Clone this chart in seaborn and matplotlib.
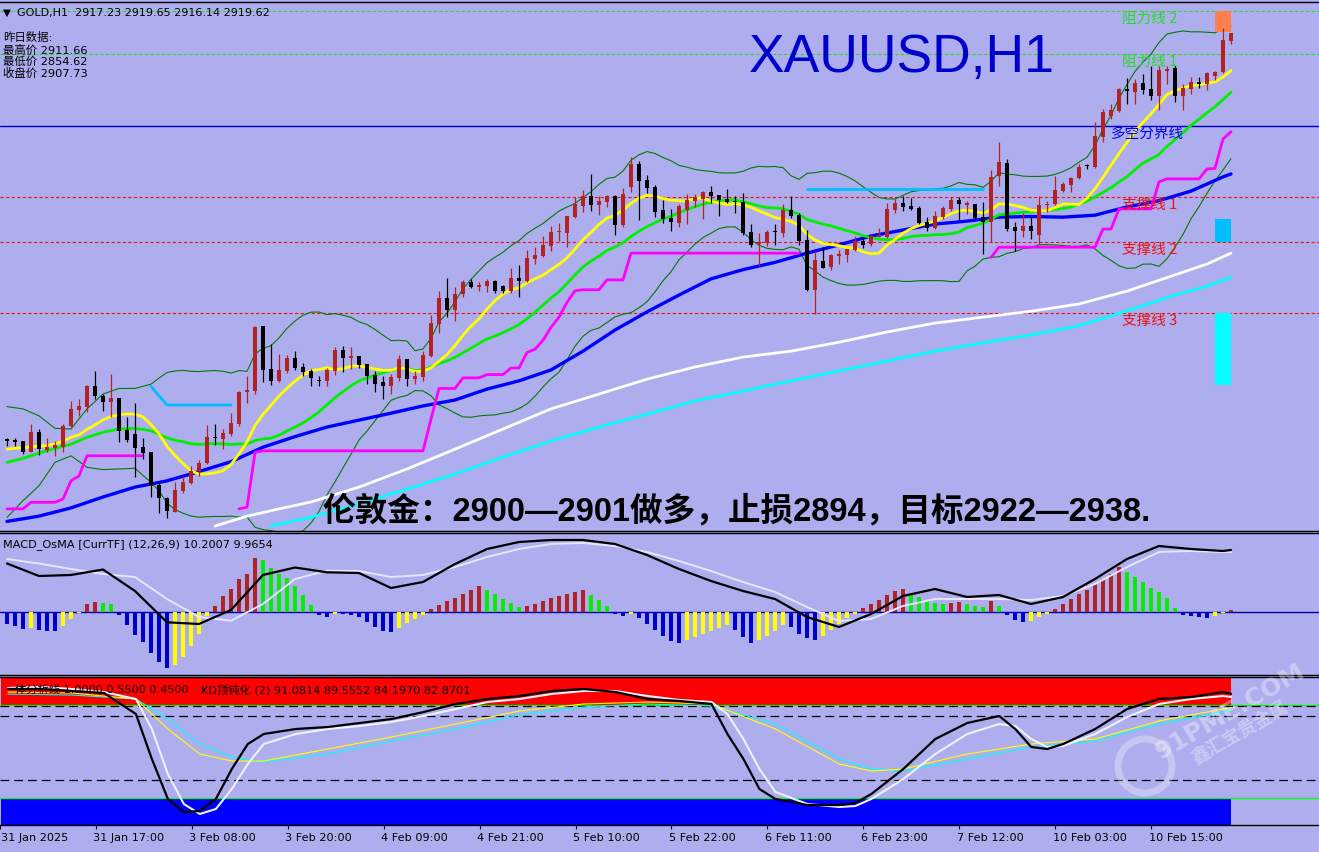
import numpy as np
import pandas as pd
import matplotlib
matplotlib.use("Agg")
import matplotlib.pyplot as plt
import seaborn as sns
from matplotlib.patches import Rectangle, Ellipse

W, H = 1319, 853
BG = "#AEAEEE"

# ---------------- price data (H1 bars, index 0..153) ----------------
opens = [2796.6, 2796.3, 2795.9, 2792.7, 2798.6, 2793.3, 2793.9, 2794.2, 2800.5, 2805.5,
         2806.4, 2812.5, 2809.5, 2807.7, 2808.9, 2799.3, 2798.1, 2794.2, 2792.5, 2782.6,
         2778.6, 2774.6, 2780.9, 2783.2, 2786.8, 2789.3, 2797.0, 2796.6, 2798.1, 2801.1,
         2810.7, 2811.2, 2830.9, 2817.8, 2814.2, 2817.3, 2821.1, 2818.5, 2817.3, 2814.6,
         2814.1, 2817.3, 2823.5, 2821.1, 2821.6, 2819.3, 2816.0, 2813.8, 2812.7, 2815.0,
         2820.8, 2814.8, 2815.3, 2821.6, 2831.4, 2839.3, 2835.8, 2840.4, 2844.1, 2842.6,
         2842.9, 2844.5, 2843.0, 2841.5, 2845.5, 2844.6, 2851.1, 2852.1, 2855.2, 2859.2,
         2859.1, 2863.7, 2867.3, 2870.2, 2867.6, 2868.5, 2870.2, 2861.4, 2873.0, 2879.9,
         2875.1, 2872.8, 2866.0, 2863.5, 2862.1, 2866.0, 2868.8, 2869.4, 2871.5, 2870.5,
         2869.3, 2868.8, 2868.5, 2859.4, 2855.8, 2856.0, 2859.7, 2859.1, 2866.0, 2864.4,
         2857.0, 2841.8, 2850.6, 2848.8, 2852.1, 2852.3, 2853.8, 2856.5, 2855.6, 2857.9,
         2857.7, 2866.0, 2868.1, 2867.2, 2866.5, 2862.2, 2860.5, 2863.7, 2866.3, 2868.9,
         2867.5, 2867.8, 2863.7, 2862.4, 2876.2, 2880.2, 2860.7, 2859.7, 2861.0, 2858.4,
         2867.5, 2867.8, 2871.8, 2873.5, 2875.6, 2879.6, 2878.9, 2888.2, 2894.6, 2896.1,
         2902.6, 2901.8, 2904.4, 2902.6, 2900.6, 2908.2, 2908.9, 2900.6, 2902.6, 2904.8,
         2904.1, 2906.7, 2907.7, 2917.23]
highs = [2796.8, 2796.8, 2796.1, 2801.1, 2799.6, 2796.8, 2796.1, 2801.1, 2808.2, 2808.7,
         2812.9, 2817.3, 2810.2, 2816.3, 2808.9, 2803.1, 2807.4, 2796.8, 2792.5, 2783.4,
         2778.9, 2783.6, 2785.5, 2788.4, 2790.3, 2800.8, 2801.1, 2799.6, 2804.5, 2811.2,
         2815.8, 2830.9, 2830.9, 2825.4, 2822.3, 2822.1, 2823.3, 2819.6, 2817.8, 2815.6,
         2818.0, 2824.4, 2824.8, 2824.4, 2821.8, 2819.3, 2817.3, 2815.8, 2816.3, 2822.0,
         2820.8, 2817.3, 2823.3, 2834.1, 2841.5, 2845.5, 2842.7, 2844.9, 2845.2, 2844.1,
         2845.2, 2844.8, 2843.3, 2848.4, 2849.3, 2853.8, 2854.7, 2858.0, 2861.0, 2862.0,
         2864.2, 2869.8, 2872.0, 2876.9, 2870.3, 2870.6, 2870.5, 2872.6, 2881.9, 2880.7,
         2876.6, 2873.5, 2869.0, 2866.3, 2867.8, 2870.8, 2870.7, 2871.8, 2873.3, 2870.5,
         2872.3, 2870.3, 2871.1, 2861.7, 2858.9, 2859.9, 2861.7, 2867.8, 2870.3, 2865.0,
         2859.9, 2853.4, 2854.7, 2852.6, 2853.9, 2854.3, 2858.0, 2857.7, 2858.4, 2860.4,
         2868.1, 2869.3, 2870.3, 2869.6, 2867.2, 2863.7, 2865.8, 2867.3, 2870.0, 2870.0,
         2868.6, 2867.8, 2868.3, 2878.1, 2886.7, 2881.4, 2862.4, 2865.1, 2863.7, 2870.3,
         2868.8, 2876.3, 2874.4, 2875.9, 2879.9, 2879.9, 2892.5, 2896.6, 2898.1, 2902.8,
         2906.0, 2905.7, 2907.2, 2909.7, 2909.5, 2909.7, 2909.9, 2904.1, 2906.2, 2906.2,
         2907.9, 2908.2, 2921.0, 2919.65]
lows = [2794.5, 2794.5, 2792.0, 2792.5, 2791.7, 2792.7, 2791.3, 2792.5, 2800.2, 2803.4,
        2804.7, 2808.7, 2805.1, 2803.1, 2795.8, 2795.6, 2785.0, 2790.5, 2778.9, 2774.1,
        2772.5, 2774.5, 2780.2, 2782.9, 2785.5, 2789.1, 2794.8, 2793.5, 2797.6, 2800.6,
        2807.5, 2810.2, 2813.8, 2812.9, 2813.8, 2816.6, 2817.6, 2815.8, 2812.7, 2812.7,
        2812.7, 2816.0, 2816.9, 2817.8, 2818.1, 2813.2, 2810.9, 2808.7, 2810.2, 2814.2,
        2812.5, 2813.2, 2814.3, 2821.3, 2828.7, 2833.6, 2832.2, 2839.5, 2842.4, 2841.5,
        2841.0, 2840.8, 2840.8, 2840.8, 2839.5, 2844.1, 2849.6, 2851.6, 2853.6, 2856.7,
        2854.8, 2863.4, 2865.3, 2865.8, 2864.5, 2867.0, 2858.4, 2860.7, 2871.3, 2863.0,
        2871.0, 2863.8, 2862.0, 2859.7, 2860.9, 2861.7, 2867.0, 2863.2, 2868.0, 2864.2,
        2868.1, 2865.1, 2858.4, 2854.7, 2849.1, 2855.1, 2855.4, 2857.9, 2863.4, 2855.4,
        2841.3, 2834.5, 2848.3, 2847.9, 2849.6, 2850.3, 2853.6, 2854.5, 2855.1, 2857.7,
        2857.4, 2865.1, 2865.8, 2866.0, 2861.7, 2859.7, 2860.2, 2863.2, 2865.8, 2862.9,
        2864.7, 2863.2, 2852.6, 2856.2, 2873.3, 2859.7, 2853.6, 2857.7, 2857.2, 2855.7,
        2865.3, 2867.5, 2871.3, 2871.3, 2875.4, 2878.4, 2878.7, 2886.5, 2893.5, 2895.8,
        2898.1, 2898.1, 2901.1, 2899.4, 2896.3, 2904.1, 2898.8, 2896.4, 2901.1, 2902.8,
        2902.4, 2905.4, 2907.5, 2916.14]
closes = [2795.9, 2795.8, 2792.7, 2798.6, 2793.5, 2794.1, 2794.8, 2800.6, 2805.7, 2806.5,
          2812.5, 2809.5, 2807.7, 2809.0, 2799.1, 2796.4, 2794.0, 2792.3, 2782.4, 2778.6,
          2774.8, 2781.1, 2783.6, 2787.0, 2789.3, 2797.3, 2796.8, 2798.4, 2801.4, 2810.7,
          2811.5, 2830.4, 2817.6, 2814.2, 2817.5, 2821.1, 2818.1, 2816.8, 2815.0, 2814.1,
          2817.5, 2823.5, 2821.1, 2821.8, 2819.0, 2815.8, 2813.2, 2812.7, 2815.5, 2820.8,
          2814.8, 2815.7, 2822.0, 2831.7, 2839.3, 2835.8, 2840.5, 2844.1, 2842.6, 2843.3,
          2844.5, 2841.3, 2841.4, 2845.5, 2844.6, 2851.4, 2852.3, 2855.4, 2859.2, 2859.4,
          2864.1, 2867.8, 2870.2, 2867.6, 2868.7, 2870.2, 2861.4, 2870.8, 2879.9, 2874.7,
          2872.6, 2865.4, 2863.2, 2862.4, 2867.2, 2869.0, 2869.9, 2871.5, 2870.3, 2869.1,
          2868.3, 2868.3, 2859.1, 2855.4, 2856.2, 2859.4, 2859.2, 2866.0, 2864.2, 2856.7,
          2841.8, 2850.8, 2848.5, 2852.3, 2852.6, 2854.1, 2856.7, 2855.4, 2858.2, 2858.5,
          2866.3, 2868.1, 2867.0, 2866.3, 2862.0, 2860.5, 2864.2, 2866.5, 2868.9, 2867.8,
          2868.1, 2863.4, 2862.4, 2875.9, 2880.4, 2860.2, 2859.7, 2861.0, 2859.7, 2867.5,
          2867.8, 2872.0, 2873.8, 2875.6, 2878.9, 2879.4, 2888.5, 2895.6, 2896.3, 2902.6,
          2901.9, 2904.4, 2902.4, 2900.6, 2908.5, 2908.7, 2900.6, 2902.8, 2904.8, 2904.1,
          2907.5, 2907.9, 2917.5, 2919.62]

# moving-average start values before the windows fill
yellow_head = [2793.5, 2793.8, 2793.9, 2794.2, 2794.4, 2794.6, 2795.1, 2795.9, 2797.1]
green_head_idx = [0, 2, 4, 6, 8, 10, 12, 14, 16, 18]
green_head = [2789.5, 2790.7, 2792.3, 2793.7, 2795.0, 2797.1, 2798.6, 2799.6, 2799.8, 2799.1]
bb_up_head = [2806.4, 2805.7, 2803.6, 2799.8, 2799.6, 2805.7, 2810.2, 2811.9, 2811.9, 2813.2]
bb_dn_head = [2772.8, 2777.9, 2782.4, 2789.5, 2791.5, 2788.0, 2787.3, 2787.5, 2787.7, 2783.4]

# slow averages
blue_idx = list(range(0, 153, 4)) + [153]
blue_ma = [2771.6, 2773.2, 2775.7, 2779.0, 2782.0, 2783.9, 2786.7, 2789.7, 2794.1, 2797.3,
           2800.2, 2802.3, 2804.4, 2806.6, 2808.4, 2811.7, 2814.2, 2817.5, 2823.2, 2829.6,
           2835.1, 2840.2, 2845.1, 2847.9, 2850.1, 2852.9, 2855.4, 2858.1, 2859.9, 2861.7,
           2862.6, 2863.8, 2864.0, 2863.8, 2864.4, 2866.9, 2868.8, 2871.7, 2876.0, 2876.9]
white_idx = [26, 30, 34, 38, 44, 50, 56, 62, 68, 74, 80, 86, 92, 98, 104, 110, 116, 122,
             128, 134, 140, 146, 150, 153]
white_ma = [2770.2, 2773.2, 2775.4, 2777.5, 2782.0, 2787.5, 2793.5, 2799.6, 2805.7, 2810.2,
            2814.7, 2818.4, 2821.4, 2823.2, 2825.9, 2829.0, 2831.7, 2833.5, 2835.3, 2837.5,
            2841.4, 2846.3, 2849.6, 2852.9]
cyan_idx = [33, 38, 44, 50, 56, 62, 68, 74, 80, 86, 92, 98, 104, 110, 116, 122, 128, 134,
            140, 146, 150, 153]
cyan_ma = [2770.2, 2772.9, 2776.9, 2781.4, 2786.0, 2791.1, 2796.0, 2800.2, 2804.1, 2808.1,
           2811.1, 2814.2, 2817.2, 2820.2, 2823.2, 2825.7, 2828.1, 2830.9, 2835.4, 2840.2,
           2842.9, 2845.6]

# trailing stop (magenta = long side, sky blue = short side)
trail_long_a = [2775.4, 2775.4, 2775.4, 2777.4, 2777.4, 2777.4, 2777.4, 2778.4, 2783.9, 2785.4,
                2791.5, 2791.5, 2791.5, 2791.5, 2791.5, 2791.5, 2791.5, 2791.5]
trail_long_b = ([2775.4, 2775.9, 2792.5] + [2793.0] * 21 + [2802.6] + [2811.9] * 3 +
                [2815.1] * 3 + [2816.1] * 3 + [2818.1] * 2 +
                [2822.8, 2823.8, 2826.5, 2830.4, 2833.5, 2838.0, 2841.5] + [2841.8] * 3 +
                [2844.8] * 3 + [2852.9] * 22)
trail_long_c = ([2851.6] + [2854.7] * 13 + [2860.2] * 2 + [2866.3] * 5 + [2874.5] +
                [2875.4] * 5 + [2878.4, 2878.6, 2887.5, 2889.7])
trail_short_a = [2812.5, 2809.7] + [2806.9] * 9
trail_short_b = [2872.2] * 23
trail_starts = {"long_a": 0, "long_b": 29, "long_c": 123, "short_a": 18, "short_b": 100}

# horizontal levels
resist2, resist1 = 2926.4, 2913.2
pivot = 2891.3
sup1, sup2, sup3 = 2869.8, 2856.2, 2834.7
zone_bounds = [(2920.0, 2926.4), (2856.2, 2863.2), (2813.0, 2834.7)]

# MACD_OsMA panel
osma = [-1.17, -1.33, -1.67, -1.57, -1.77, -1.83, -1.85, -1.33, -0.67, -0.1,
        0.83, 1.07, 0.93, 0.83, -0.23, -1.23, -2.23, -2.93, -4.1, -5.0,
        -5.6, -5.23, -4.43, -3.33, -2.17, -0.4, 0.6, 1.67, 2.33, 3.33,
        3.83, 5.43, 5.23, 4.43, 3.83, 3.43, 2.6, 1.73, 0.73, -0.23,
        -0.43, -0.17, -0.2, -0.27, -0.5, -0.93, -1.43, -1.83, -2.0, -1.57,
        -1.1, -0.7, -0.3, 0.3, 0.7, 1.1, 1.4, 1.8, 2.2, 2.6,
        2.2, 1.8, 1.3, 0.9, 0.5, 0.6, 0.8, 1.1, 1.4, 1.6,
        1.8, 2.0, 2.2, 1.7, 1.2, 0.6, -0.2, -0.4, -0.2, -0.6,
        -1.2, -1.8, -2.4, -2.9, -3.1, -2.8, -2.5, -2.2, -1.9, -1.6,
        -1.3, -1.8, -2.5, -3.1, -2.8, -2.4, -1.9, -1.3, -1.5, -2.2,
        -2.6, -2.8, -2.4, -1.8, -1.2, -0.6, -0.2, 0.4, 0.8, 1.2,
        1.7, 2.1, 2.3, 1.9, 1.5, 1.1, 0.9, 0.8, 0.9, 1.0,
        0.8, 0.6, 0.5, 1.1, 0.6, -0.3, -0.8, -1.0, -0.9, -0.5,
        -0.2, 0.3, 0.8, 1.3, 1.8, 2.2, 2.8, 3.3, 3.8, 4.5,
        4.0, 3.5, 3.0, 2.4, 2.0, 1.4, 0.4, -0.3, -0.4, -0.5,
        -0.6, -0.4, -0.1, 0.2]
macd_idx = blue_idx
macd_main = [4.88, 3.63, 3.73, 4.28, 2.13, -1.0, -1.17, 0.23, 3.73, 4.48,
             4.0, 3.93, 2.43, 3.03, 4.83, 6.33, 7.03, 7.23, 7.23, 6.83,
             5.73, 4.33, 3.13, 2.13, 1.33, -0.47, -1.47, -0.17, 1.63, 2.33,
             1.53, 1.73, 0.83, 1.53, 3.33, 5.33, 6.63, 6.33, 6.13, 6.23]
macd_signal = [5.33, 4.88, 4.33, 3.83, 3.53, 1.33, -0.47, -0.84, 0.83, 3.33,
               4.16, 4.13, 3.53, 3.73, 4.53, 5.53, 6.33, 6.83, 6.93, 6.63,
               6.03, 5.13, 4.13, 3.03, 2.03, 0.53, -0.87, -0.67, 0.63, 1.33,
               1.33, 1.33, 1.23, 1.63, 2.83, 4.53, 6.03, 6.13, 6.03, 6.03]

# KD panel
kd_idx = [0, 4, 8, 12, 16, 18, 20, 22, 24, 26, 28, 30, 32, 36, 40, 44, 48, 52, 56, 60,
          64, 68, 72, 76, 80, 84, 88, 90, 92, 94, 96, 100, 104, 106, 108, 112, 116, 120,
          124, 126, 128, 130, 132, 136, 140, 144, 148, 152, 153]
kd_k = [93.5, 93.5, 92.5, 91.5, 81, 58.5, 38.5, 32, 32.5, 38.5, 53.5, 66, 71, 73.5, 74.5,
        76.5, 78.5, 82, 86, 88.5, 90, 92.5, 93.5, 92, 88.5, 87.5, 86, 71, 58.5, 43.5, 38.5,
        35.5, 35.5, 36.5, 41, 53.5, 68.5, 76.5, 80, 73.5, 64.5, 63.5, 66, 73.5, 83.5, 88.5,
        89.5, 92, 91.08]
kd_d = [94, 94.5, 93.5, 92, 88.5, 73.5, 51, 36, 31, 33.5, 43.5, 56, 66, 71, 73.5, 75, 77,
        80, 83.5, 87, 88.5, 91, 92.5, 92.5, 90, 88, 87, 81, 68.5, 53.5, 42, 36, 34.5, 35,
        38.5, 48.5, 61, 71, 76, 75, 68.5, 64.5, 65, 71, 79.5, 86, 88.5, 90, 89.56]
kd_slow_idx = [0, 8, 16, 20, 24, 28, 32, 40, 48, 56, 64, 72, 80, 88, 96, 104, 108, 112,
               120, 128, 136, 144, 152, 153]
kd_slow1 = [92, 91.5, 88.5, 73.5, 61, 57.5, 57.5, 63.5, 69.5, 76, 82.5, 86, 87, 86, 73.5,
            56, 52.5, 53.5, 61, 66, 68.5, 77.5, 83.5, 84.20]
kd_slow2 = [91, 90.5, 88.5, 78.5, 66, 59.5, 57, 61, 67.5, 73.5, 80.5, 84.5, 86, 85, 76,
            58.5, 53.5, 52.5, 58.5, 64.5, 67.5, 76, 82, 82.87]

tick_idx = [-1, 11, 23, 35, 47, 59, 71, 83, 95, 107, 119, 131, 143]
tick_labels = ["31 Jan 2025", "31 Jan 17:00", "3 Feb 08:00", "3 Feb 20:00", "4 Feb 09:00",
               "4 Feb 21:00", "5 Feb 10:00", "5 Feb 22:00", "6 Feb 11:00", "6 Feb 23:00",
               "7 Feb 12:00", "10 Feb 03:00", "10 Feb 15:00"]

# ---------------- figure setup ----------------
sns.set_theme(style="white", rc={"axes.facecolor": BG, "figure.facecolor": BG,
                                 "savefig.facecolor": BG})
plt.rcParams["font.family"] = ["DejaVu Sans", "Noto Sans CJK SC"]


def fx(px):
    return px / W


def fy(py):
    return 1 - py / H


fig = plt.figure(figsize=(W / 100, H / 100), dpi=100)
ax1 = fig.add_axes([0, fy(532), 1, 529 / H])
ax2 = fig.add_axes([0, fy(676), 1, 142 / H])
ax3 = fig.add_axes([0, fy(826), 1, 148 / H])
XL = (-0.875, 164.0)
for ax in (ax1, ax2, ax3):
    ax.set_xlim(*XL)
    ax.set_xticks([])
    ax.set_yticks([])
    for s in ("left", "right"):
        ax.spines[s].set_visible(False)
    for s in ("top", "bottom"):
        ax.spines[s].set_color("black")
        ax.spines[s].set_linewidth(1.0)

n = len(closes)
idx = np.arange(n)
c = pd.Series(closes)
sma10 = c.rolling(10).mean()
sma20 = c.rolling(20).mean()
sd20 = c.rolling(20).std(ddof=0)

# ---------------- main panel ----------------
dash = (0, (3, 2))
ax1.axhline(resist2, color="#22DD22", lw=0.8, ls=dash, zorder=1)
ax1.axhline(resist1, color="#22DD22", lw=0.8, ls=dash, zorder=1)
ax1.axhline(pivot, color="#0000CD", lw=1.0, zorder=1)
for lv in (sup1, sup2, sup3):
    ax1.axhline(lv, color="#EE1111", lw=0.8, ls=dash, zorder=1)

x_bb = green_head_idx + list(range(19, n))
ax1.plot(x_bb, bb_up_head + list(sma20 + 2 * sd20)[19:], color="#007A00", lw=0.8, zorder=2)
ax1.plot(x_bb, bb_dn_head + list(sma20 - 2 * sd20)[19:], color="#007A00", lw=0.8, zorder=2)

sns.lineplot(x=white_idx, y=white_ma, ax=ax1, color="white", linewidth=2.0, zorder=3)
sns.lineplot(x=cyan_idx, y=cyan_ma, ax=ax1, color="#00FFFF", linewidth=2.0, zorder=3)
sns.lineplot(x=blue_idx, y=blue_ma, ax=ax1, color="#0000FF", linewidth=2.4, zorder=3)
sns.lineplot(x=x_bb, y=green_head + list(sma20)[19:], ax=ax1, color="#00F000",
             linewidth=2.0, zorder=3)
sns.lineplot(x=list(range(n)), y=yellow_head + list(sma10)[9:], ax=ax1, color="#FFFF00",
             linewidth=2.0, zorder=3)

for key, seg, col in (("long_a", trail_long_a, "#FF00FF"), ("long_b", trail_long_b, "#FF00FF"),
                      ("long_c", trail_long_c, "#FF00FF"), ("short_a", trail_short_a, "#00BFFF"),
                      ("short_b", trail_short_b, "#00BFFF")):
    s0 = trail_starts[key]
    ax1.plot(range(s0, s0 + len(seg)), seg, color=col, lw=2.0, zorder=3)

o = np.array(opens)
cl = np.array(closes)
hi = np.maximum(np.array(highs), np.maximum(o, cl))
lo = np.minimum(np.array(lows), np.minimum(o, cl))
bull = cl >= o
ccol = np.where(bull, "#B22222", "#000000")
body_lo = np.minimum(o, cl)
body_h = np.maximum(np.abs(cl - o), 0.35)
ax1.vlines(idx, lo, hi, colors=ccol, lw=0.9, zorder=5)
ax1.bar(idx, body_h, bottom=body_lo, width=0.62, color=ccol, linewidth=0, zorder=6)

for (b, t), col in zip(zone_bounds, ("#FF7F50", "#00BFFF", "#00FFFF")):
    ax1.add_patch(Rectangle((151.0, b), 2.0, t - b, color=col, lw=0, zorder=4))

ax1.set_xlim(*XL)
ax1.set_ylim(2768.7, 2929.0)
ax1.set_xlabel("")
ax1.set_ylabel("")

# level labels
cjk = ["Noto Sans CJK SC", "DejaVu Sans"]
lab = [("阻力线 2", 18.5, "#22DD22"), ("阻力线 1", 62, "#22DD22"), ("多空分界线", 134, "#0000EE"),
       ("支撑线 1", 205, "#EE1111"), ("支撑线 2", 250, "#EE1111"), ("支撑线 3", 321, "#EE1111")]
for txt, py, col in lab:
    x0 = 1111 if txt == "多空分界线" else 1122
    fig.text(fx(x0), fy(py), txt, color=col, fontsize=10.5, family=cjk, va="center", ha="left")

fig.text(fx(749), fy(71.7), "XAUUSD,H1", color="#0000CD", fontsize=38.5,
         family="Liberation Sans", va="baseline", ha="left")
fig.text(fx(322), fy(511), "伦敦金：2900—2901做多，止损2894，目标2922—2938.", color="black",
         fontsize=23.5, family=["Liberation Sans", "Noto Sans CJK SC"], weight="bold",
         va="center", ha="left")

fig.text(fx(3), fy(13), "▼", fontsize=7.5, va="center", ha="left", color="black")
fig.text(fx(17), fy(13), "GOLD,H1  2917.23 2919.65 2916.14 2919.62", fontsize=8.0,
         va="center", ha="left", color="black")
for txt, py in (("昨日数据:", 37), ("最高价 2911.66", 50), ("最低价 2854.62", 61.5),
                ("收盘价 2907.73", 73)):
    fig.text(fx(3), fy(py), txt, fontsize=8.2, va="center", ha="left", color="black")

# ---------------- MACD panel ----------------
ocols = []
prev = osma[0]
for i, v in enumerate(osma):
    up = v >= prev if i > 0 else False
    if v >= 0:
        ocols.append("#B22222" if up else "#00F000")
    else:
        ocols.append("#FFFF00" if up else "#0000CC")
    prev = v
ax2.axhline(0, color="#0000AA", lw=1.0, zorder=1)
ax2.bar(idx, osma, width=0.5, color=ocols, linewidth=0, zorder=2)
sns.lineplot(x=macd_idx, y=macd_signal, ax=ax2, color="#E6E6FF", linewidth=1.4, zorder=3)
sns.lineplot(x=macd_idx, y=macd_main, ax=ax2, color="black", linewidth=1.6, zorder=4)
ax2.set_xlim(*XL)
ax2.set_ylim(-6.27, 7.93)
ax2.set_xlabel("")
ax2.set_ylabel("")
fig.text(fx(3), fy(545), "MACD_OsMA [CurrTF] (12,26,9) 10.2007 9.9654", fontsize=8.1,
         va="center", ha="left", color="black")

# ---------------- KD panel ----------------
ax3.fill_between([XL[0], 153], 85.5, 99.5, color="#FF0000", lw=0, zorder=1)
ax3.fill_between([XL[0], 153], 25.5, 38.5, color="#0000FF", lw=0, zorder=1)
ax3.axhline(85.5, color="#00FF00", lw=0.9, zorder=2)
ax3.axhline(38.8, color="#00FF00", lw=0.9, zorder=2)
for lv in (84.9, 79.9, 48.0):
    ax3.axhline(lv, color="black", lw=0.9, ls=(0, (7, 4)), zorder=2)
sns.lineplot(x=kd_slow_idx, y=kd_slow2, ax=ax3, color="#00FFFF", linewidth=0.8, zorder=3)
sns.lineplot(x=kd_slow_idx, y=kd_slow1, ax=ax3, color="#FFFF00", linewidth=0.8, zorder=3)
sns.lineplot(x=kd_idx, y=kd_d, ax=ax3, color="#F0F0FF", linewidth=1.5, zorder=4)
sns.lineplot(x=kd_idx, y=kd_k, ax=ax3, color="black", linewidth=1.6, zorder=5)
ax3.set_xlim(*XL)
ax3.set_ylim(25.5, 99.5)
ax3.set_xlabel("")
ax3.set_ylabel("")
fig.text(fx(15), fy(690), "体分析线 1.0000 0.5500 0.4500", fontsize=8.1, va="center",
         ha="left", color="black")
fig.text(fx(201), fy(690), "KD顶钝化 (2) 91.0814 89.5552 84.1970 82.8701", fontsize=8.1,
         va="center", ha="left", color="black")

# watermark
fig.text(fx(1230), fy(712), "91PME.COM", fontsize=18, weight="bold", color="white",
         alpha=0.35, rotation=30, va="center", ha="center")
fig.text(fx(1240), fy(733), "鑫汇宝贵金属", fontsize=13, weight="bold", color="white",
         alpha=0.35, rotation=30, va="center", ha="center", family=cjk)
fig.add_artist(Ellipse((fx(1145), fy(767)), 54 / W, 54 / H, fill=False, ec="white",
                       lw=5, alpha=0.3, transform=fig.transFigure))

# time axis
ax3.set_xticks(tick_idx)
ax3.set_xticklabels([])
ax3.tick_params(axis="x", direction="out", length=3, width=0.8, color="black", bottom=True)
for t, lbl in zip(tick_idx, tick_labels):
    fig.text(fx(max(1, 5 + 8 * t)), fy(838), lbl, fontsize=8.1, va="center", ha="left",
             color="black")

fig.savefig("out.png", dpi=100)
